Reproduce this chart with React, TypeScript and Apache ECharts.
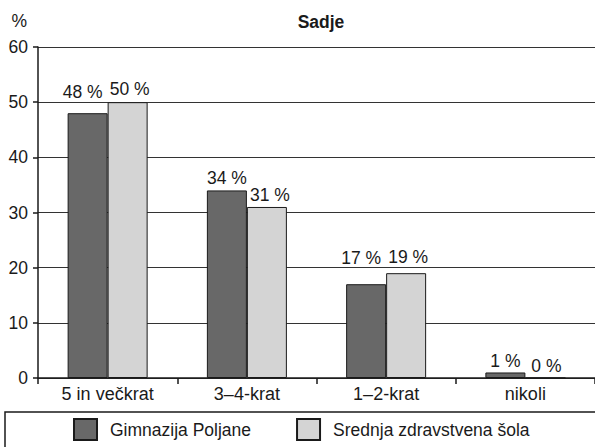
import React, { useEffect, useRef } from "react";
import * as echarts from "echarts";

const categories = ["5 in večkrat", "3–4-krat", "1–2-krat", "nikoli"];
const gimnazija = [48, 34, 17, 1];
const srednja = [50, 31, 19, 0];
const seriesNames = ["Gimnazija Poljane", "Srednja zdravstvena šola"];
const yTicks = { min: 0, max: 60, interval: 10 };

// label nudges (pixels) so neighbouring value labels do not collide, as in the original
const nudgeGimnazija: [number, number][] = [[-5, -9], [0, 0], [-5, -14], [0, 1]];
const nudgeSrednja: [number, number][] = [[2, -1], [3, 0], [2, -4], [1, 0]];

const FONT = "Liberation Sans, Arial, sans-serif";

export default function App() {
  const ref = useRef<HTMLDivElement>(null);
  useEffect(() => {
    if (!ref.current) return;
    const chart = echarts.init(ref.current, null, { renderer: "svg" });
    const label = {
      show: true,
      position: "top" as const,
      distance: 3,
      formatter: (p: any) => `${p.value} %`,
      color: "#1a1a1a",
      fontSize: 17.5,
      fontFamily: FONT,
    };
    const withNudge = (vals: number[], nudges: [number, number][]) =>
      vals.map((v, i) => ({ value: v, label: { offset: nudges[i] } }));
    chart.setOption({
      animation: false,
      textStyle: { fontFamily: FONT },
      title: {
        text: "Sadje",
        left: 316,
        top: 8,
        textAlign: "center",
        textStyle: { fontSize: 17.5, fontWeight: "bold", color: "#1a1a1a", fontFamily: FONT },
      },
      grid: { left: 38, right: -2, top: 47, bottom: 69, containLabel: false },
      xAxis: {
        type: "category",
        data: categories,
        axisLine: { show: true, lineStyle: { color: "#1a1a1a", width: 1.5 } },
        axisTick: { show: true, length: 6, lineStyle: { color: "#1a1a1a", width: 1.5 } },
        axisLabel: { color: "#1a1a1a", fontSize: 18, margin: 7, fontFamily: FONT },
      },
      yAxis: {
        type: "value",
        min: yTicks.min,
        max: yTicks.max,
        interval: yTicks.interval,
        name: "%",
        nameLocation: "end",
        nameGap: 17,
        nameTextStyle: { color: "#1a1a1a", fontSize: 17.5, align: "right", padding: [0, 11, 0, 0], fontFamily: FONT },
        axisLine: { show: true, lineStyle: { color: "#1a1a1a", width: 1.5 } },
        axisTick: { show: true, inside: false, length: 5, lineStyle: { color: "#1a1a1a", width: 1.5 } },
        axisLabel: { color: "#1a1a1a", fontSize: 17.5, margin: 10, fontFamily: FONT },
        splitLine: { show: true, lineStyle: { color: "#333333", width: 1 } },
      },
      legend: {
        bottom: 1,
        left: 68,
        icon: "rect",
        itemWidth: 23,
        itemHeight: 21,
        itemGap: 45,
        textStyle: { fontSize: 17.5, color: "#1a1a1a", padding: [0, 0, 0, 8], fontFamily: FONT },
        data: seriesNames,
      },
      graphic: [
        {
          type: "rect",
          shape: { x: 5, y: 412, width: 600, height: 60 },
          style: { fill: "none", stroke: "#1a1a1a", lineWidth: 1.5 },
          silent: true,
          z: 0,
        },
      ],
      series: [
        {
          name: seriesNames[0],
          type: "bar",
          data: withNudge(gimnazija, nudgeGimnazija),
          barWidth: 40,
          barGap: "0%",
          itemStyle: { color: "#686868", borderColor: "#1a1a1a", borderWidth: 1 },
          label,
        },
        {
          name: seriesNames[1],
          type: "bar",
          data: withNudge(srednja, nudgeSrednja),
          barWidth: 40,
          barGap: "0%",
          itemStyle: { color: "#d4d4d4", borderColor: "#1a1a1a", borderWidth: 1 },
          label,
        },
      ],
    });
    return () => chart.dispose();
  }, []);
  return <div ref={ref} style={{ width: 595, height: 447, position: "absolute", left: 0, top: 0 }} />;
}
